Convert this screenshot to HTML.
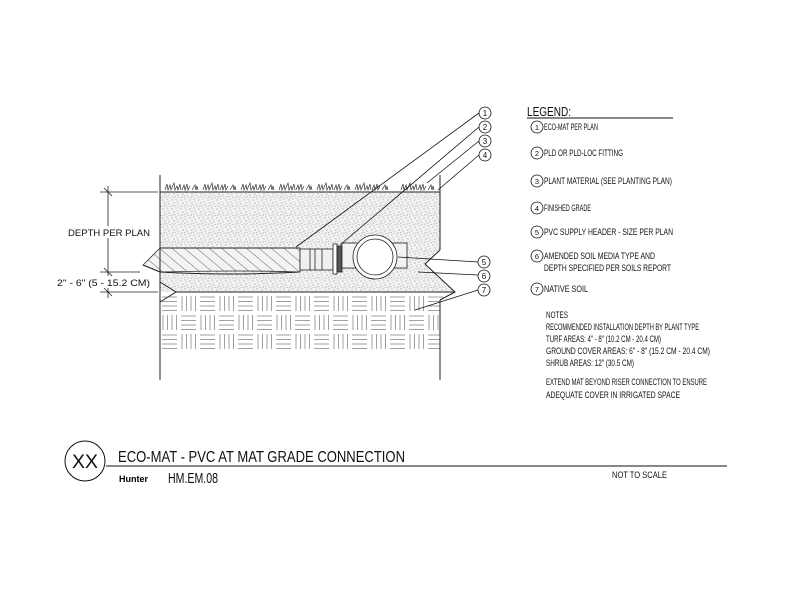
<!DOCTYPE html>
<html><head><meta charset="utf-8"><style>
html,body{margin:0;padding:0;background:#fff;}
svg{display:block;}
text{font-family:"Liberation Sans",sans-serif;fill:#111;}
</style></head><body>
<svg width="792" height="612" viewBox="0 0 792 612" xmlns="http://www.w3.org/2000/svg">
<defs>
<pattern id="stip" width="9" height="9" patternUnits="userSpaceOnUse">
<rect width="9" height="9" fill="#f2f2f2"/>
<circle cx="1" cy="2" r="0.55" fill="#777"/><circle cx="5" cy="1" r="0.55" fill="#888"/>
<circle cx="3" cy="5" r="0.55" fill="#777"/><circle cx="7" cy="6" r="0.55" fill="#888"/>
<circle cx="2" cy="8" r="0.55" fill="#777"/><circle cx="6" cy="3.5" r="0.45" fill="#999"/>
<circle cx="8" cy="8.5" r="0.45" fill="#888"/><circle cx="4.5" cy="7.5" r="0.45" fill="#999"/>
</pattern>
<pattern id="hatch" width="8" height="8" patternUnits="userSpaceOnUse" patternTransform="rotate(-50)">
<rect width="8" height="8" fill="#f3f3f3"/><line x1="0" y1="0" x2="0" y2="8" stroke="#666" stroke-width="1"/>
</pattern>
<pattern id="weave" x="160" y="294" width="38" height="38" patternUnits="userSpaceOnUse">
<rect width="38" height="38" fill="#fff"/>
<g stroke="#888" stroke-width="0.8">
<line x1="2" y1="3" x2="17" y2="3"/><line x1="2" y1="7.5" x2="17" y2="7.5"/><line x1="2" y1="12" x2="17" y2="12"/><line x1="2" y1="16.5" x2="17" y2="16.5"/>
<line x1="22" y1="2" x2="22" y2="17"/><line x1="26.5" y1="2" x2="26.5" y2="17"/><line x1="31" y1="2" x2="31" y2="17"/><line x1="35.5" y1="2" x2="35.5" y2="17"/>
<line x1="3" y1="21" x2="3" y2="36"/><line x1="7.5" y1="21" x2="7.5" y2="36"/><line x1="12" y1="21" x2="12" y2="36"/><line x1="16.5" y1="21" x2="16.5" y2="36"/>
<line x1="21" y1="22" x2="36" y2="22"/><line x1="21" y1="26.5" x2="36" y2="26.5"/><line x1="21" y1="31" x2="36" y2="31"/><line x1="21" y1="35.5" x2="36" y2="35.5"/>
</g>
</pattern>
</defs>

<path d="M160 192 H440 V250 L425 264 L455 292 H160 Z" fill="url(#stip)"/>
<path d="M160 292 H455 L440 300 V352 H160 Z" fill="url(#weave)"/>
<path d="M143 265 L160 248 H300 V272 Q240 270 160 272 Z" fill="url(#hatch)" stroke="#333" stroke-width="0.8"/>
<g stroke="#222" fill="none" stroke-width="1">
<line x1="160" y1="175" x2="160" y2="380"/>
<line x1="440" y1="175" x2="440" y2="250"/>
<line x1="440" y1="300" x2="440" y2="380"/>
<line x1="160" y1="192" x2="440" y2="192"/>
<path d="M440 250 L425 264 L455 292 L440 300"/>
<path d="M143 265 L160 272 Q230 276 300 272"/>
<path d="M160 282 L176 292 L160 302"/>
<line x1="176" y1="292" x2="455" y2="292"/>
<line x1="160" y1="248" x2="300" y2="248"/>
</g>
<g id="g1" stroke="#333" stroke-width="0.7" fill="none">
<path d="M165 190 l2 -6 l1 6 l2 -5 l1 5 l3 -7 l1 7 l2 -4 l1 4 l2 -6 l1 6 M182 190 l2 -5 l1 5 l2 -6 l1 6 l2 -4 M192 190 l3 -5 l1 5 l1 -4 l1 4"/>
</g>
<use href="#g1" x="38"/><use href="#g1" x="76"/><use href="#g1" x="114"/><use href="#g1" x="152"/><use href="#g1" x="190"/><use href="#g1" x="236"/>
<g stroke="#222" stroke-width="0.8" fill="#fff">
<rect x="300" y="249" width="33" height="21" fill="#f0f0f0"/>
<line x1="310" y1="249" x2="310" y2="270"/><line x1="315" y1="249" x2="315" y2="270"/><line x1="322" y1="249" x2="322" y2="270"/>
<rect x="333" y="244" width="4" height="30"/><rect x="337" y="246" width="5" height="26" fill="#555"/>
<rect x="342" y="243" width="65" height="25" fill="#f3f3f3"/>
<circle cx="375" cy="257" r="22"/><circle cx="375" cy="257" r="18"/>
</g>
<g stroke="#222" stroke-width="0.8">
<line x1="108" y1="186" x2="108" y2="298"/>
<line x1="100" y1="192" x2="158" y2="192"/><line x1="100" y1="272" x2="140" y2="272"/><line x1="100" y1="292" x2="158" y2="292"/>
<line x1="104" y1="188" x2="112" y2="196"/><line x1="104" y1="268" x2="112" y2="276"/><line x1="104" y1="288" x2="112" y2="296"/>
</g>
<rect x="66" y="226" width="86" height="12" fill="#fff"/>
<text x="68" y="236" font-size="9.5" textLength="82" lengthAdjust="spacingAndGlyphs">DEPTH PER PLAN</text>
<rect x="55" y="276" width="97" height="12" fill="#fff"/>
<text x="57" y="286" font-size="9.5" textLength="93" lengthAdjust="spacingAndGlyphs">2" - 6" (5 - 15.2 CM)</text>
<g stroke="#111" stroke-width="0.8" fill="none">
<line x1="479" y1="113" x2="296" y2="247"/>
<line x1="479" y1="127" x2="340" y2="245"/>
<line x1="479" y1="141" x2="427" y2="183"/>
<line x1="479" y1="155" x2="438" y2="190"/>
<line x1="478" y1="262" x2="398" y2="257"/>
<line x1="478" y1="275" x2="418" y2="272"/>
<line x1="478" y1="290" x2="415" y2="310"/>
</g>
<g stroke="#111" stroke-width="0.8" fill="#fff">
<circle cx="485" cy="113" r="6"/><circle cx="485" cy="127" r="6"/><circle cx="485" cy="141" r="6"/><circle cx="485" cy="155" r="6"/>
<circle cx="484" cy="262" r="6"/><circle cx="484" cy="276" r="6"/><circle cx="484" cy="290" r="6"/>
</g>
<g font-size="8" text-anchor="middle">
<text x="485" y="116">1</text><text x="485" y="130">2</text><text x="485" y="144">3</text><text x="485" y="158">4</text>
<text x="484" y="265">5</text><text x="484" y="279">6</text><text x="484" y="293">7</text>
</g>
<text x="527" y="116" font-size="13" textLength="44" lengthAdjust="spacingAndGlyphs">LEGEND:</text>
<line x1="527" y1="118" x2="673" y2="118" stroke="#111" stroke-width="1"/>
<g stroke="#111" stroke-width="0.8" fill="none">
<circle cx="537" cy="127" r="6"/><circle cx="537" cy="153" r="6"/><circle cx="537" cy="181" r="6"/><circle cx="537" cy="208" r="6"/>
<circle cx="537" cy="232" r="6"/><circle cx="537" cy="256" r="6"/><circle cx="537" cy="289" r="6"/>
</g>
<g font-size="7.5" text-anchor="middle">
<text x="537" y="130">1</text><text x="537" y="156">2</text><text x="537" y="184">3</text><text x="537" y="211">4</text>
<text x="537" y="235">5</text><text x="537" y="259">6</text><text x="537" y="292">7</text>
</g>
<g font-size="9">
<text x="544" y="130" textLength="54" lengthAdjust="spacingAndGlyphs">ECO-MAT PER PLAN</text>
<text x="544" y="156" textLength="79" lengthAdjust="spacingAndGlyphs">PLD OR PLD-LOC FITTING</text>
<text x="544" y="184" textLength="128" lengthAdjust="spacingAndGlyphs">PLANT MATERIAL (SEE PLANTING PLAN)</text>
<text x="544" y="211" textLength="47" lengthAdjust="spacingAndGlyphs">FINISHED GRADE</text>
<text x="544" y="235" textLength="129" lengthAdjust="spacingAndGlyphs">PVC SUPPLY HEADER - SIZE PER PLAN</text>
<text x="544" y="259" textLength="111" lengthAdjust="spacingAndGlyphs">AMENDED SOIL MEDIA TYPE AND</text>
<text x="544" y="271" textLength="127" lengthAdjust="spacingAndGlyphs">DEPTH SPECIFIED PER SOILS REPORT</text>
<text x="544" y="292" textLength="44" lengthAdjust="spacingAndGlyphs">NATIVE SOIL</text>
<text x="546" y="318" textLength="22" lengthAdjust="spacingAndGlyphs">NOTES</text>
<text x="546" y="330" textLength="153" lengthAdjust="spacingAndGlyphs">RECOMMENDED INSTALLATION DEPTH BY PLANT TYPE</text>
<text x="546" y="342" textLength="115" lengthAdjust="spacingAndGlyphs">TURF AREAS: 4" - 8" (10.2 CM - 20.4 CM)</text>
<text x="546" y="354" textLength="164" lengthAdjust="spacingAndGlyphs">GROUND COVER AREAS: 6" - 8" (15.2 CM - 20.4 CM)</text>
<text x="546" y="366" textLength="88" lengthAdjust="spacingAndGlyphs">SHRUB AREAS: 12" (30.5 CM)</text>
<text x="546" y="385" textLength="161" lengthAdjust="spacingAndGlyphs">EXTEND MAT BEYOND RISER CONNECTION TO ENSURE</text>
<text x="546" y="398" textLength="134" lengthAdjust="spacingAndGlyphs">ADEQUATE COVER IN IRRIGATED SPACE</text>
</g>
<circle cx="85" cy="461" r="20" fill="none" stroke="#111" stroke-width="1"/>
<text x="85" y="468" font-size="19" text-anchor="middle" textLength="26" lengthAdjust="spacingAndGlyphs">XX</text>
<text x="118" y="462" font-size="16" textLength="287" lengthAdjust="spacingAndGlyphs">ECO-MAT - PVC AT MAT GRADE CONNECTION</text>
<line x1="106" y1="466" x2="727" y2="466" stroke="#111" stroke-width="1"/>
<text x="119" y="482" font-size="9" font-weight="bold" textLength="29" lengthAdjust="spacingAndGlyphs" style="fill:#000">Hunter</text>
<text x="168" y="483" font-size="15" textLength="50" lengthAdjust="spacingAndGlyphs">HM.EM.08</text>
<text x="612" y="478" font-size="9" textLength="55" lengthAdjust="spacingAndGlyphs">NOT TO SCALE</text>
</svg>
</body></html>
